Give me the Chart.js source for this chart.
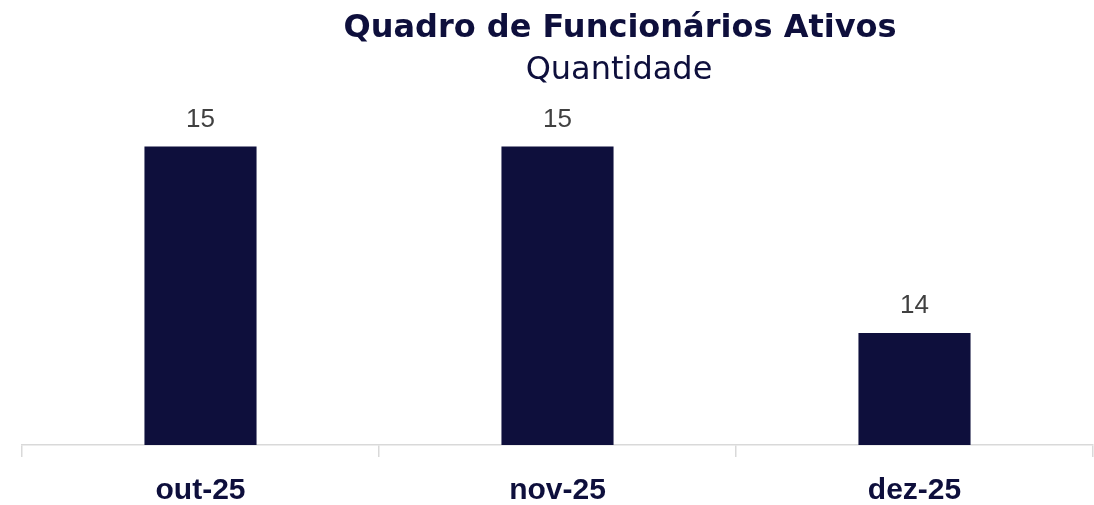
<!DOCTYPE html>
<html>
<head>
<meta charset="utf-8">
<script src="https://cdn.jsdelivr.net/npm/chart.js@4"></script>
<style>
  html, body { margin: 0; padding: 0; background: #fff; }
  #wrap { width: 1094px; height: 505px; }
</style>
</head>
<body>
<div id="wrap"><canvas id="headcountCanvas" width="1094" height="505"></canvas></div>
<script>
    var months = ['out-25', 'nov-25', 'dez-25'];
    var headcount = [15, 15, 14];
    var chartTitle = 'Quadro de Funcionários Ativos';
    var chartSubtitle = 'Quantidade';

    var navy = '#0e0f3c';

    // title block sits a little right of centre, as in the original
    var titlePlugin = {
        id: 'titleBlock',
        afterDraw: function (chart) {
            var ctx = chart.ctx;
            ctx.save();
            ctx.textAlign = 'center';
            ctx.textBaseline = 'middle';
            ctx.fillStyle = navy;
            ctx.font = 'bold 32px "DejaVu Sans"';
            ctx.fillText(chartTitle, 620, 29);
            ctx.font = '32px "DejaVu Sans"';
            ctx.fillText(chartSubtitle, 619, 71);
            ctx.restore();
        }
    };

    var valueLabels = {
        id: 'valueLabels',
        afterDatasetsDraw: function (chart) {
            var ctx = chart.ctx;
            var meta = chart.getDatasetMeta(0);
            ctx.save();
            ctx.textAlign = 'center';
            ctx.textBaseline = 'middle';
            ctx.fillStyle = '#404040';
            ctx.font = '26px "Liberation Sans"';
            meta.data.forEach(function (bar, i) {
                ctx.fillText(String(headcount[i]), bar.x, bar.y - 27);
            });
            ctx.restore();
        }
    };

    var ctx = document.getElementById('headcountCanvas');
    var headcountChart = new Chart(ctx, {
        type: 'bar',
        data: {
            labels: months,
            datasets: [{
                label: chartSubtitle,
                data: headcount,
                backgroundColor: navy,
                borderWidth: 0,
                categoryPercentage: 1,
                barPercentage: 0.314
            }]
        },
        options: {
            responsive: false,
            animation: false,
            layout: { padding: { top: 100, left: 22, right: 1, bottom: 0 } },
            plugins: {
                legend: { display: false },
                tooltip: { enabled: false }
            },
            scales: {
                x: {
                    offset: true,
                    afterFit: function (scale) { scale.height = 60; },
                    border: { display: true, color: '#d9d9d9', width: 1.5 },
                    grid: {
                        offset: true,
                        drawOnChartArea: false,
                        drawTicks: true,
                        tickLength: 12,
                        color: '#d9d9d9',
                        lineWidth: 1.5
                    },
                    ticks: {
                        color: navy,
                        padding: 16,
                        font: { family: 'Liberation Sans', size: 30, weight: 'bold' }
                    }
                },
                y: {
                    display: false,
                    min: 13.4,
                    max: 15.25
                }
            }
        },
        plugins: [titlePlugin, valueLabels]
    });
</script>
</body>
</html>
